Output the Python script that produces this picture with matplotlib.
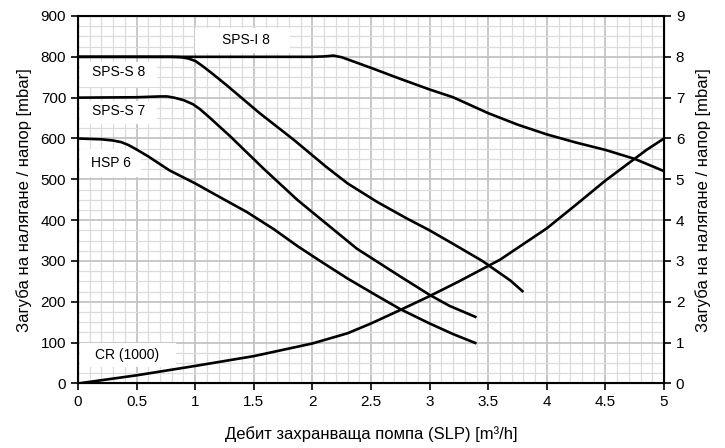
import numpy as np
import matplotlib.pyplot as plt
from matplotlib.patches import Rectangle
from matplotlib.ticker import MultipleLocator

plt.rcParams['font.family'] = ['Liberation Sans', 'DejaVu Sans']

# Kurven (Durchfluss m3/h, Druckverlust mbar)
sps_i8_x = [0, 1.0, 2.0, 2.1, 2.18, 2.25, 2.5, 2.75, 3.0, 3.2, 3.5, 3.75, 4.0, 4.25, 4.5, 4.75, 5.0]
sps_i8_y = [800, 800, 800, 801, 803, 799, 773, 746, 720, 701, 662, 634, 610, 590, 572, 550, 520]

sps_s8_x = [0, 0.5, 0.8, 0.88, 0.94, 1.0, 1.06, 1.15, 1.27, 1.55, 1.84, 2.12, 2.3, 2.55, 2.8, 3.0, 3.2, 3.45, 3.69, 3.8]
sps_s8_y = [800, 800, 800, 799, 796, 790, 778, 758, 730, 662, 597, 530, 490, 445, 405, 375, 342, 300, 252, 224]

sps_s7_x = [0, 0.5, 0.7, 0.76, 0.82, 0.9, 0.98, 1.04, 1.12, 1.3, 1.58, 1.87, 2.15, 2.38, 2.75, 3.0, 3.17, 3.4]
sps_s7_y = [700, 701, 703, 703, 700, 694, 684, 672, 652, 605, 527, 450, 384, 330, 262, 217, 190, 162]

hsp6_x = [0, 0.2, 0.3, 0.37, 0.43, 0.5, 0.6, 0.78, 1.0, 1.2, 1.44, 1.67, 1.87, 2.05, 2.3, 2.55, 2.75, 3.0, 3.2, 3.4]
hsp6_y = [600, 598, 595, 591, 584, 573, 556, 522, 490, 458, 420, 378, 337, 303, 257, 215, 182, 147, 121, 98]

cr_x = [0, 0.5, 1.0, 1.5, 2.0, 2.3, 2.5, 2.75, 3.0, 3.25, 3.6, 4.0, 4.25, 4.5, 4.85, 5.0]
cr_y = [0, 20, 43, 67, 98, 123, 147, 180, 214, 250, 303, 380, 438, 497, 572, 600]

curves = [
    (sps_i8_x, sps_i8_y),
    (sps_s8_x, sps_s8_y),
    (sps_s7_x, sps_s7_y),
    (hsp6_x, hsp6_y),
    (cr_x, cr_y),
]

# Beschriftungen: Text, Mitte x/y, Kasten (x0, x1, y0, y1)
labels = ["SPS-I 8", "SPS-S 8", "SPS-S 7", "HSP 6", "CR (1000)"]
label_x = [1.43, 0.345, 0.345, 0.28, 0.42]
label_y = [840, 762, 668, 541, 70]
label_box = [(1.0, 1.81, 810, 871), (0.02, 0.67, 727, 788), (0.02, 0.67, 635, 692),
             (0.02, 0.54, 505, 575), (0.02, 0.84, 40, 99)]

fig = plt.figure(figsize=(7.25, 4.48), dpi=100)
ax = fig.add_axes([0.1076, 0.144, 0.8083, 0.8203])

for x, y in curves:
    ax.plot(x, y, color='black', lw=1.9, solid_joinstyle='round', solid_capstyle='butt', zorder=3)

for txt, lx, ly, (x0, x1, y0, y1) in zip(labels, label_x, label_y, label_box):
    ax.add_patch(Rectangle((x0, y0), x1 - x0, y1 - y0, facecolor='white', edgecolor='none', zorder=2))
    ax.text(lx, ly, txt, fontsize=10, va='center', ha='center', zorder=4)

ax.set_xlim(0, 5)
ax.set_ylim(0, 900)
ax.xaxis.set_major_locator(MultipleLocator(0.5))
ax.xaxis.set_minor_locator(MultipleLocator(0.1))
ax.yaxis.set_major_locator(MultipleLocator(100))
ax.yaxis.set_minor_locator(MultipleLocator(25))
ax.xaxis.set_major_formatter(plt.FuncFormatter(lambda v, p: f"{v:g}"))

ax.grid(which='major', color='#c4c4c4', lw=1.3, zorder=1)
ax.grid(which='minor', color='#dcdcdc', lw=0.9, zorder=0)
ax.set_axisbelow(True)

ax.tick_params(which='minor', length=0)
ax.tick_params(which='major', direction='out', length=5, width=1.2, labelsize=11)
for s in ax.spines.values():
    s.set_linewidth(1.5)
    s.set_zorder(5)

ax.set_xlabel("Дебит захранваща помпа (SLP) [m³/h]", fontsize=12, labelpad=12)
ax.set_ylabel("Загуба на налягане / напор [mbar]", fontsize=12, labelpad=6)

ax2 = ax.twinx()
ax2.set_ylim(0, 9)
ax2.yaxis.set_major_locator(MultipleLocator(1))
ax2.tick_params(direction='out', length=5, width=1.2, labelsize=11)
ax2.set_ylabel("Загуба на налягане / напор [mbar]", fontsize=12, labelpad=8)

fig.savefig("out.png", dpi=100)
